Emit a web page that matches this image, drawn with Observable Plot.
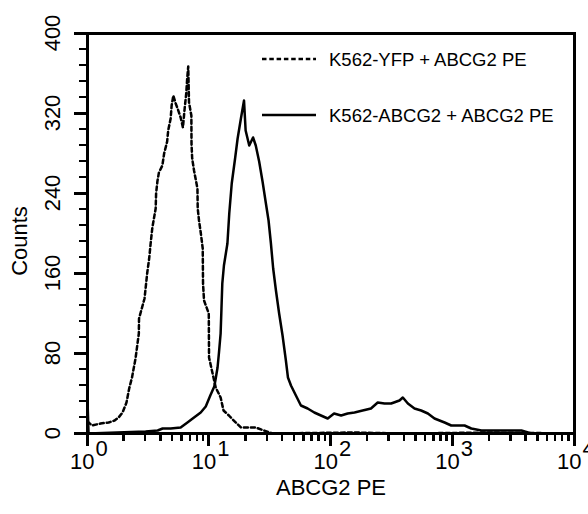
<!DOCTYPE html>
<html><head><meta charset="utf-8">
<script src="https://cdn.jsdelivr.net/npm/d3@7"></script>
<script src="https://cdn.jsdelivr.net/npm/@observablehq/plot@0.6"></script>
<style>
body{margin:0;background:#fff}
#wrap{position:relative;width:588px;height:514px;overflow:hidden}
.tk{position:absolute;background:#000}
.rl{position:absolute;font-family:'Liberation Sans',Arial,sans-serif;font-size:22px;line-height:22px;color:#000;white-space:nowrap;transform:translate(-50%,-50%) rotate(-90deg);transform-origin:center center}
#overlay{position:absolute;left:0;top:0;pointer-events:none}
</style>
</head><body><div id="wrap"><div id="chart"></div></div>
<script>
// K562-YFP + ABCG2 PE (dotted)
const yfpFluor  = [1, 1.09, 1.28, 1.49, 1.67, 1.80, 1.94, 2.09, 2.20, 2.32, 2.48, 2.64, 2.65, 2.94, 3.09, 3.21, 3.30, 3.41, 3.63, 3.66, 3.75, 3.86, 4.12, 4.26, 4.51, 4.60, 4.82, 4.91, 5.07, 5.30, 5.50, 5.82, 6.08, 6.28, 6.47, 6.59, 6.72, 6.82, 7.13, 7.15, 7.24, 7.50, 8.00, 8.04, 8.24, 8.51, 8.84, 8.89, 9.06, 9.91, 9.96, 11.3, 12.4, 13.1, 14.5, 15.6, 18.2, 24.1, 28.1, 33.3, 150, 400, 2000, 10000];
const yfpCounts = [12, 8, 10, 11, 13, 16, 21, 31, 45, 56, 75, 100, 115, 135, 160, 175, 190, 206, 225, 240, 252, 261, 268, 280, 292, 303, 315, 328, 338, 330, 325, 316, 306, 325, 340, 355, 367, 331, 318, 290, 275, 263, 245, 225, 213, 201, 185, 150, 133, 120, 76, 46, 36, 23, 18, 14, 6, 6, 3, 0, 1, 0, 1, 0];
// K562-ABCG2 + ABCG2 PE (solid)
const abcgFluor  = [1, 1.02, 3.0, 3.77, 4.14, 4.82, 5.82, 6.62, 7.50, 8.51, 9.36, 10.2, 11.0, 11.3, 11.7, 12.0, 12.4, 12.6, 12.8, 13.2, 14.1, 14.6, 15.3, 16.3, 17.1, 18.2, 19.3, 19.9, 21.3, 22.9, 24.1, 25.7, 27.4, 29.2, 30.7, 32.1, 33.5, 35.3, 37.5, 40.0, 42.6, 44.3, 46.9, 51.5, 56.6, 64.3, 72.9, 82.7, 94.0, 106, 121, 137, 156, 182, 213, 242, 275, 312, 365, 389, 428, 485, 550, 625, 708, 857, 972, 1250, 1420, 1718, 3664, 4426, 10000];
const abcgCounts = [33, 0, 2, 3, 5, 5, 6, 11, 16, 21, 27, 38, 47, 55, 66, 80, 100, 125, 150, 168, 190, 220, 250, 275, 295, 315, 333, 303, 288, 296, 288, 272, 252, 230, 213, 190, 165, 143, 120, 98, 73, 56, 48, 38, 28, 25, 21, 18, 15, 20, 18, 20, 21, 23, 25, 31, 30, 30, 33, 36, 30, 25, 23, 20, 15, 11, 8, 8, 5, 3, 3, 0, 0];

const decadeTicks = [1, 10, 100, 1000, 10000];
const decadeExponents = ["0", "1", "2", "3", "4"];
const countTicks = [0, 80, 160, 240, 320, 400];
const legendLabels = ["K562-YFP + ABCG2 PE", "K562-ABCG2 + ABCG2 PE"];
const xLabel = "ABCG2 PE";
const yLabel = "Counts";

const yfp = yfpFluor.map((f, i) => ({f, n: yfpCounts[i]}));
const abcg = abcgFluor.map((f, i) => ({f, n: abcgCounts[i]}));
const minorX = decadeTicks.slice(0, -1).flatMap(d => d3.range(2, 10).map(k => k * d));
const minorY = d3.range(0, 401, 16).filter(v => v % 80 !== 0);

const font = "Liberation Sans, Arial, Helvetica, sans-serif";
const W = 588, H = 514, mL = 87, mR = 14, mT = 33, mB = 81;

const chart = Plot.plot({
  width: W, height: H,
  marginLeft: mL, marginRight: mR, marginTop: mT, marginBottom: mB,
  x: {type: "log", domain: [1, 10000], axis: null, label: null},
  y: {domain: [0, 400], axis: null, label: null},
  style: {fontFamily: font, background: "white", color: "black"},
  marks: [
    Plot.line(yfp, {x: "f", y: "n", stroke: "black", strokeWidth: 2.5, strokeDasharray: "4,3"}),
    Plot.line(abcg, {x: "f", y: "n", stroke: "black", strokeWidth: 2.5}),
    Plot.frame({stroke: "black", strokeWidth: 3}),
    Plot.text(decadeTicks, {x: d => d, frameAnchor: "bottom", text: () => "10", textAnchor: "end", lineAnchor: "middle", dx: 7, dy: 28, fontSize: 22, fill: "black"}),
    Plot.text(decadeTicks, {x: d => d, frameAnchor: "bottom", text: (d, i) => decadeExponents[i], textAnchor: "start", lineAnchor: "middle", dx: 8, dy: 15, fontSize: 22, fill: "black"}),
    Plot.text([xLabel], {frameAnchor: "bottom", lineAnchor: "middle", dy: 54, fontSize: 22, fill: "black"})
  ]
});
document.getElementById("chart").appendChild(chart);

// positions taken from the plot's own scales
const px = chart.scale("x"), py = chart.scale("y");
const sx = d3.scaleLog().domain(px.domain).range(px.range);
const sy = d3.scaleLinear().domain(py.domain).range(py.range);
const bottom = H - mB;
const wrap = d3.select("#wrap");

// tick marks as HTML boxes
const box = (left, top, w, h) => wrap.append("div").attr("class", "tk")
  .style("left", left + "px").style("top", top + "px").style("width", w + "px").style("height", h + "px");
for (const v of decadeTicks) box(sx(v) - 1.5, bottom, 3, 13);
for (const v of minorX) box(sx(v) - 1.25, bottom, 2.5, 8);
for (const v of countTicks) box(mL - 13, sy(v) - 1.5, 13, 3);
for (const v of minorY) box(mL - 8, sy(v) - 1.25, 8, 2.5);

// rotated y labels (CSS rotation)
const rlab = (cx, cy, t) => wrap.append("div").attr("class", "rl")
  .style("left", cx + "px").style("top", cy + "px").text(t);
for (const v of countTicks) rlab(mL - 34, sy(v), String(v));
rlab(mL - 67, (mT + bottom) / 2 + 8, yLabel);

// legend
const ov = wrap.append("svg").attr("id", "overlay").attr("width", W).attr("height", H).attr("font-family", font);
const rows = [{label: legendLabels[0], dash: "4.5,2.8", y: 59}, {label: legendLabels[1], dash: null, y: 115}];
for (const r of rows) {
  const l = ov.append("line").attr("x1", 262).attr("x2", 316).attr("y1", r.y).attr("y2", r.y)
    .attr("stroke", "black").attr("stroke-width", 2.5);
  if (r.dash) l.attr("stroke-dasharray", r.dash);
  ov.append("text").attr("x", 329).attr("y", r.y + 1).attr("dy", "0.35em").attr("text-anchor", "start")
    .attr("font-size", 18.5).attr("fill", "black").text(r.label);
}
</script>
</body></html>
